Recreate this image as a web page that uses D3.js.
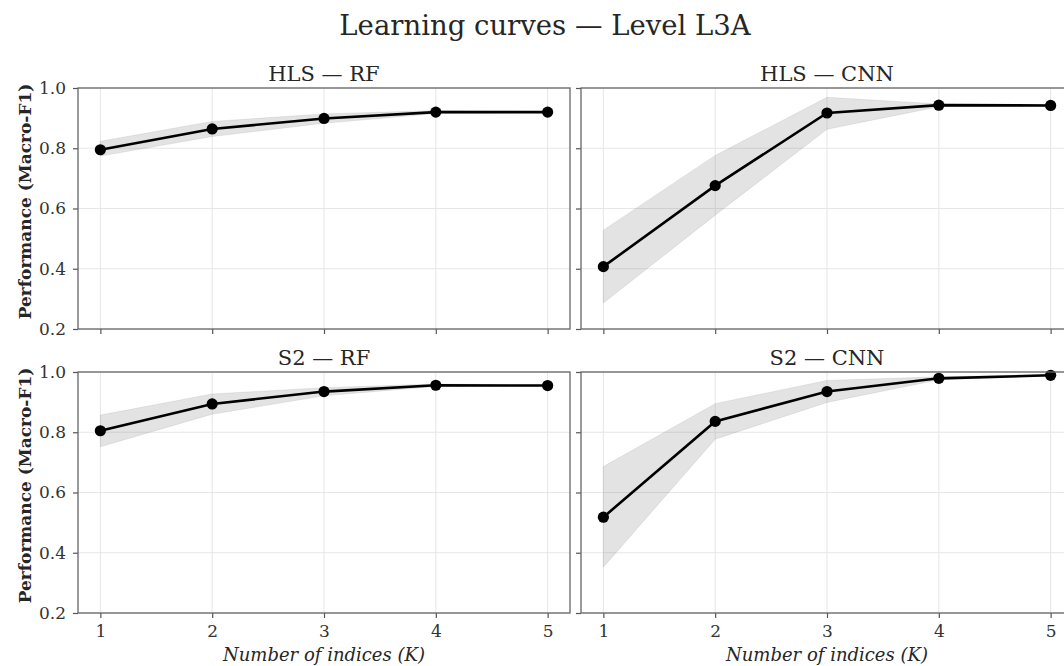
<!DOCTYPE html>
<html><head><meta charset="utf-8">
<script src="https://cdn.jsdelivr.net/npm/d3@7"></script>
<style>body{margin:0;background:#fff}svg{display:block}text{font-family:"DejaVu Serif",serif}</style>
</head><body><div id="chart"></div>
<script>
const kValues = [1, 2, 3, 4, 5];
const yTicks = [0.2, 0.4, 0.6, 0.8, 1.0];
const panelTitles = ["HLS — RF", "HLS — CNN", "S2 — RF", "S2 — CNN"];
const hlsRfMean = [0.795, 0.864, 0.899, 0.920, 0.920];
const hlsRfLow  = [0.774, 0.839, 0.883, 0.915, 0.918];
const hlsRfHigh = [0.823, 0.889, 0.914, 0.925, 0.922];
const hlsCnnMean = [0.407, 0.676, 0.917, 0.943, 0.942];
const hlsCnnLow  = [0.286, 0.578, 0.863, 0.938, 0.940];
const hlsCnnHigh = [0.528, 0.776, 0.969, 0.947, 0.944];
const s2RfMean = [0.805, 0.894, 0.935, 0.956, 0.955];
const s2RfLow  = [0.752, 0.860, 0.921, 0.952, 0.953];
const s2RfHigh = [0.857, 0.927, 0.948, 0.960, 0.957];
const s2CnnMean = [0.518, 0.836, 0.935, 0.979, 0.989];
const s2CnnLow  = [0.352, 0.777, 0.899, 0.974, 0.987];
const s2CnnHigh = [0.686, 0.895, 0.972, 0.984, 0.991];

const panels = [
  {title: panelTitles[0], mean: hlsRfMean, low: hlsRfLow, high: hlsRfHigh, row: 0, col: 0},
  {title: panelTitles[1], mean: hlsCnnMean, low: hlsCnnLow, high: hlsCnnHigh, row: 0, col: 1},
  {title: panelTitles[2], mean: s2RfMean, low: s2RfLow, high: s2RfHigh, row: 1, col: 0},
  {title: panelTitles[3], mean: s2CnnMean, low: s2CnnLow, high: s2CnnHigh, row: 1, col: 1}
];

const W = 1064, H = 666;
const svg = d3.select("#chart").append("svg").attr("width", W).attr("height", H);
const colX = [78, 581], panelW = 492;
const rowY = [88, 372], panelH = 241;

svg.append("text").attr("x", 545).attr("y", 35).attr("text-anchor", "middle")
  .attr("font-size", 27.5).attr("fill", "#262626").text("Learning curves — Level L3A");

panels.forEach(p => {
  const x0 = colX[p.col], y0 = rowY[p.row];
  const g = svg.append("g").attr("transform", `translate(${x0},${y0})`);
  const x = d3.scaleLinear().domain([0.8, 5.2]).range([0, panelW]);
  const y = d3.scaleLinear().domain([0.2, 1.0]).range([panelH, 0]);

  // grid
  g.append("g").selectAll("line").data(kValues).join("line")
    .attr("x1", d => x(d)).attr("x2", d => x(d)).attr("y1", 0).attr("y2", panelH)
    .attr("stroke", "#e6e6e6").attr("stroke-width", 1);
  g.append("g").selectAll("line").data(yTicks).join("line")
    .attr("x1", 0).attr("x2", panelW).attr("y1", d => y(d)).attr("y2", d => y(d))
    .attr("stroke", "#e6e6e6").attr("stroke-width", 1);

  // band
  const area = d3.area().x((d, i) => x(kValues[i])).y0((d, i) => y(p.low[i])).y1((d, i) => y(p.high[i]));
  g.append("path").datum(p.mean).attr("d", area)
    .attr("fill", "#808080").attr("fill-opacity", 0.22)
    .attr("stroke", "#808080").attr("stroke-opacity", 0.15).attr("stroke-width", 1);

  // line
  const line = d3.line().x((d, i) => x(kValues[i])).y(d => y(d));
  g.append("path").datum(p.mean).attr("d", line).attr("fill", "none")
    .attr("stroke", "#000").attr("stroke-width", 2.6);
  g.append("g").selectAll("circle").data(p.mean).join("circle")
    .attr("cx", (d, i) => x(kValues[i])).attr("cy", d => y(d)).attr("r", 5.6).attr("fill", "#000");

  // axes
  const xAxis = d3.axisBottom(x).tickValues(kValues).tickSize(5).tickPadding(7)
    .tickFormat(p.row === 1 ? d3.format("d") : () => "");
  const yAxis = d3.axisLeft(y).tickValues(yTicks).tickSize(5).tickPadding(7)
    .tickFormat(p.col === 0 ? d3.format(".1f") : () => "");
  const gx = g.append("g").attr("transform", `translate(0,${panelH})`).call(xAxis);
  const gy = g.append("g").call(yAxis);
  [gx, gy].forEach(a => {
    a.attr("font-family", null).attr("font-size", null);
    a.select(".domain").remove();
    a.selectAll(".tick line").attr("stroke", "#555").attr("stroke-width", 1.2);
    a.selectAll(".tick text").attr("fill", "#333").attr("font-size", 17)
      .style("font-family", "DejaVu Serif");
  });
  // spines
  g.append("rect").attr("x", 0).attr("y", 0).attr("width", panelW).attr("height", panelH)
    .attr("fill", "none").attr("stroke", "#666").attr("stroke-width", 1.3);

  // panel title
  g.append("text").attr("x", panelW / 2).attr("y", -7.5).attr("text-anchor", "middle")
    .attr("font-size", 21).attr("fill", "#262626").text(p.title);

  if (p.col === 0) {
    g.append("text").attr("transform", `translate(-47.5,${panelH / 2 - 7}) rotate(-90)`)
      .attr("text-anchor", "middle").attr("font-size", 17).attr("font-weight", "bold")
      .attr("fill", "#262626").text("Performance (Macro-F1)");
  }
  if (p.row === 1) {
    g.append("text").attr("x", panelW / 2).attr("y", panelH + 48).attr("text-anchor", "middle")
      .attr("font-size", 18).attr("font-style", "italic").attr("fill", "#262626")
      .text("Number of indices (K)");
  }
});
</script></body></html>
